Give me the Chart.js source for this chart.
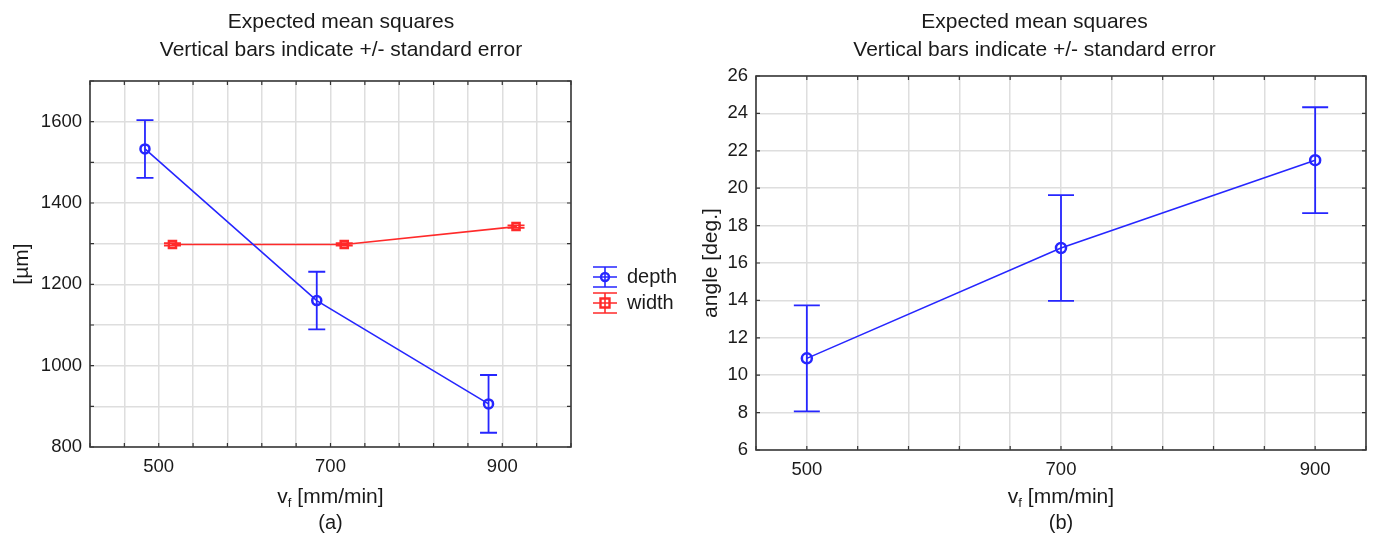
<!DOCTYPE html>
<html lang="en">
<head>
<meta charset="UTF-8">
<title>Expected mean squares</title>
<script src="https://cdn.jsdelivr.net/npm/chart.js"></script>
<style>
    body { margin: 0; background: #fff; }
    .wrap { position: relative; width: 1375px; height: 535px; }
    .panel { position: absolute; top: 0; height: 535px; }
    #panelA { left: 0; width: 690px; }
    #panelB { left: 690px; width: 685px; }
</style>
</head>
<body>
<div class="wrap">
    <div class="panel" id="panelA"><canvas id="chartA"></canvas></div>
    <div class="panel" id="panelB"><canvas id="chartB"></canvas></div>
</div>
<script>
// values
const feedRates = [500, 700, 900];
const depthMean = [1533, 1160, 906];
const depthSE = [71, 71, 71];
const widthMean = [1298, 1298, 1342];
const widthSE = [3, 3, 3];
const angleMean = [10.9, 16.8, 21.5];
const angleSE = [2.83, 2.83, 2.83];
const xTickLabels = [500, 700, 900];
const yTickLabelsA = [800, 1000, 1200, 1400, 1600];
const yTickLabelsB = [6, 8, 10, 12, 14, 16, 18, 20, 22, 24, 26];
const titleLines = ['Expected mean squares', 'Vertical bars indicate +/- standard error'];

const FONT = '"Liberation Sans", Arial, sans-serif';
const TEXT = '#1a1a1a';
const BLUE = '#2626ff';
const RED = '#ff2a2a';
const GRID = '#dedede';
const offset = 16; // Statistica shifts the two series apart around each category

// vertical +/- SE bars
const errorBars = {
    id: 'errorBars',
    beforeDatasetsDraw(chart) {
        const ctx = chart.ctx, xs = chart.scales.x, ys = chart.scales.y;
        chart.data.datasets.forEach(ds => {
            if (!ds.se) return;
            ctx.save();
            ctx.strokeStyle = ds.borderColor;
            ctx.lineWidth = 1.8;
            ds.data.forEach((p, i) => {
                const px = xs.getPixelForValue(p.x);
                const top = ys.getPixelForValue(p.y + ds.se[i]);
                const bot = ys.getPixelForValue(p.y - ds.se[i]);
                ctx.beginPath();
                ctx.moveTo(px, top); ctx.lineTo(px, bot);
                ctx.moveTo(px - ds.capHalf, top); ctx.lineTo(px + ds.capHalf, top);
                ctx.moveTo(px - ds.capHalf, bot); ctx.lineTo(px + ds.capHalf, bot);
                ctx.stroke();
            });
            ctx.restore();
        });
    }
};

function legendIcon(ctx, cx, cy, color, marker) {
    ctx.save();
    ctx.strokeStyle = color;
    ctx.lineWidth = 1.6;
    ctx.beginPath();
    [-10, 0, 10].forEach(d => { ctx.moveTo(cx - 12, cy + d); ctx.lineTo(cx + 12, cy + d); });
    ctx.moveTo(cx, cy - 10); ctx.lineTo(cx, cy + 10);
    ctx.stroke();
    ctx.lineWidth = 2.4;
    ctx.beginPath();
    if (marker === 'circle') ctx.arc(cx, cy, 4, 0, Math.PI * 2);
    else ctx.rect(cx - 4.5, cy - 4.5, 9, 9);
    ctx.stroke();
    ctx.restore();
}

// frame, inward ticks, titles, legend
const frame = {
    id: 'frame',
    afterDraw(chart, args, opts) {
        const ctx = chart.ctx, a = chart.chartArea;
        const xs = chart.scales.x, ys = chart.scales.y;
        ctx.save();
        ctx.strokeStyle = '#333';
        ctx.lineWidth = 1.2;
        ctx.beginPath();
        xs.ticks.forEach(t => {
            const px = xs.getPixelForValue(t.value);
            ctx.moveTo(px, a.bottom); ctx.lineTo(px, a.bottom - 4);
            ctx.moveTo(px, a.top); ctx.lineTo(px, a.top + 4);
        });
        ys.ticks.forEach(t => {
            const py = ys.getPixelForValue(t.value);
            ctx.moveTo(a.left, py); ctx.lineTo(a.left + 4, py);
            ctx.moveTo(a.right, py); ctx.lineTo(a.right - 4, py);
        });
        ctx.stroke();
        ctx.strokeStyle = '#3a3a3a';
        ctx.lineWidth = 1.6;
        ctx.strokeRect(a.left, a.top, a.right - a.left, a.bottom - a.top);

        ctx.fillStyle = TEXT;
        ctx.textAlign = 'center';
        ctx.textBaseline = 'middle';
        ctx.font = '21px ' + FONT;
        titleLines.forEach((line, i) => ctx.fillText(line, chart.width / 2 + opts.titleShift, 22 + i * 28));

        // y axis title
        ctx.save();
        ctx.translate(opts.yTitleX, (a.top + a.bottom) / 2);
        ctx.rotate(-Math.PI / 2);
        ctx.fillText(opts.yTitle, 0, 0);
        ctx.restore();

        // x axis title: v with subscript f
        const mid = (a.left + a.right) / 2;
        ctx.font = '21px ' + FONT;
        const wV = ctx.measureText('v').width;
        const wRest = ctx.measureText(' [mm/min]').width;
        ctx.font = '13px ' + FONT;
        const wF = ctx.measureText('f').width;
        let x0 = mid - (wV + wF + wRest) / 2;
        ctx.textAlign = 'left';
        ctx.font = '21px ' + FONT;
        ctx.fillText('v', x0, 497);
        ctx.font = '13px ' + FONT;
        ctx.fillText('f', x0 + wV, 503);
        ctx.font = '21px ' + FONT;
        ctx.fillText(' [mm/min]', x0 + wV + wF, 497);
        ctx.textAlign = 'center';
        ctx.font = '20px ' + FONT;
        ctx.fillText(opts.caption, mid, 523);

        if (opts.legend) {
            ctx.font = '20px ' + FONT;
            ctx.textAlign = 'left';
            chart.data.datasets.forEach((ds, i) => {
                const cy = 277 + i * 26;
                legendIcon(ctx, 605, cy, ds.borderColor, ds.pointStyle);
                ctx.fillStyle = TEXT;
                ctx.fillText(ds.label, 627, cy);
            });
        }
        ctx.restore();
    }
};

function scaleX(min, max, height) {
    return {
        type: 'linear', min: min, max: max,
        afterFit: s => { s.height = height; },
        grid: { color: GRID, lineWidth: 1.5, drawTicks: false },
        border: { display: false },
        ticks: {
            stepSize: 40, autoSkip: false, maxRotation: 0, padding: 9,
            color: TEXT, font: { family: FONT, size: 18.5 },
            callback: v => xTickLabels.includes(v) ? String(v) : ''
        }
    };
}

function scaleY(min, max, step, width, labels) {
    return {
        min: min, max: max,
        afterFit: s => { s.width = width; },
        grid: { color: GRID, lineWidth: 1.5, drawTicks: false },
        border: { display: false },
        ticks: {
            stepSize: step, autoSkip: false, padding: 8,
            color: TEXT, font: { family: FONT, size: 18.5 },
            callback: v => labels.includes(v) ? String(v) : ''
        }
    };
}

function series(label, xs, ys, se, color, style, radius, capHalf) {
    return {
        label: label,
        data: xs.map((x, i) => ({ x: x, y: ys[i] })),
        se: se, capHalf: capHalf,
        borderColor: color, borderWidth: 1.6,
        pointStyle: style, pointRadius: radius, pointBorderWidth: 2.5,
        pointBackgroundColor: 'rgba(0,0,0,0)', pointBorderColor: color,
        fill: false, tension: 0
    };
}

new Chart(document.getElementById('chartA'), {
    type: 'line',
    data: {
        datasets: [
            series('depth', feedRates.map(v => v - offset), depthMean, depthSE, BLUE, 'circle', 4.5, 8.5),
            series('width', feedRates.map(v => v + offset), widthMean, widthSE, RED, 'rect', 5, 8.5)
        ]
    },
    options: {
        responsive: true, maintainAspectRatio: false, animation: false,
        layout: { padding: { left: 0, right: 119, top: 81, bottom: 0 } },
        scales: { x: scaleX(420, 980, 88), y: scaleY(800, 1700, 100, 90, yTickLabelsA) },
        plugins: {
            legend: { display: false }, tooltip: { enabled: false },
            frame: { yTitle: '[µm]', yTitleX: 22, caption: '(a)', legend: true, titleShift: -4 }
        }
    },
    plugins: [errorBars, frame]
});

new Chart(document.getElementById('chartB'), {
    type: 'line',
    data: {
        datasets: [
            series('angle', feedRates, angleMean, angleSE, BLUE, 'circle', 5, 13)
        ]
    },
    options: {
        responsive: true, maintainAspectRatio: false, animation: false,
        layout: { padding: { left: 0, right: 7, top: 76, bottom: 0 } },
        scales: { x: scaleX(460, 940, 85), y: scaleY(6, 26, 2, 66, yTickLabelsB) },
        plugins: {
            legend: { display: false }, tooltip: { enabled: false },
            frame: { yTitle: 'angle [deg.]', yTitleX: 21, caption: '(b)', legend: false, titleShift: 2 }
        }
    },
    plugins: [errorBars, frame]
});
</script>
</body>
</html>
